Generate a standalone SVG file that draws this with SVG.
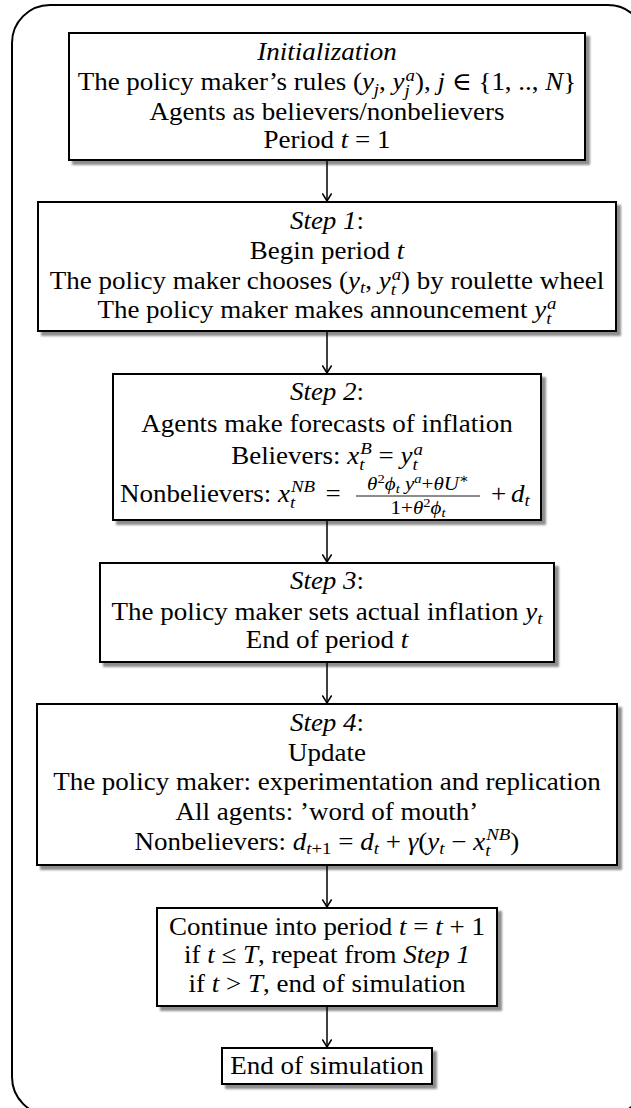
<svg xmlns="http://www.w3.org/2000/svg" width="631" height="1108" viewBox="0 0 631 1108">
<defs>
<style>
.box{fill:#fff;stroke:#000;stroke-width:2;filter:url(#sh)}
.t{font-family:"Liberation Serif","Times New Roman","DejaVu Serif",serif;font-size:25px;text-anchor:middle;fill:#000}
.f{font-family:"Liberation Serif","Times New Roman","DejaVu Serif",serif;font-size:19.5px;text-anchor:middle;fill:#000}
.st{text-anchor:start}
.i{font-style:italic}
.s{font-size:17.5px}
.ss{font-size:13.5px}
.con{fill:none;stroke:#000;stroke-width:1.5}
.bar{stroke:#000;stroke-width:0.9}
</style>
<filter id="sh" x="-5%" y="-10%" width="115%" height="135%">
<feGaussianBlur in="SourceAlpha" stdDeviation="1.3"/>
<feOffset dx="4" dy="4"/>
<feComponentTransfer><feFuncA type="linear" slope="0.45"/></feComponentTransfer>
<feMerge><feMergeNode/><feMergeNode in="SourceGraphic"/></feMerge>
</filter>
<marker id="ah" viewBox="-8 -6 10 12" markerWidth="10" markerHeight="12" refX="0" refY="0" orient="auto" markerUnits="userSpaceOnUse">
<path d="M-7,-4.3 Q-1.5,-0.8 0,0 Q-1.5,0.8 -7,4.3" fill="none" stroke="#000" stroke-width="1.5" stroke-linecap="round"/>
</marker>
</defs>
<rect x="0" y="0" width="631" height="1108" fill="#fff"/>
<rect id="frame" x="12" y="5" width="634" height="1110" rx="38" ry="38" fill="none" stroke="#000" stroke-width="2"/>

<g id="init">
<rect class="box" x="69" y="33" width="516" height="127"/>
<g transform="matrix(1.08 0 0 1 -26.16 0)">
<text class="t i" x="327" y="60">Initialization</text>
<text class="t" x="327" y="90.5">The policy maker’s rules (<tspan class="i">y</tspan><tspan class="s i" dy="5">j</tspan><tspan dy="-5">, </tspan><tspan class="i">y</tspan><tspan class="s i" dy="6">j</tspan><tspan class="s i" dx="-4" dy="-15">a</tspan><tspan dy="9">), </tspan><tspan class="i">j</tspan> ∈ {1, .., <tspan class="i">N</tspan>}</text>
<text class="t" x="327" y="120">Agents as believers/nonbelievers</text>
<text class="t" x="327" y="148">Period <tspan class="i">t</tspan> = 1</text>
</g>
</g>

<g id="step1">
<rect class="box" x="38" y="202" width="578" height="129"/>
<g transform="matrix(1.08 0 0 1 -26.16 0)">
<text class="t" x="327" y="229"><tspan class="i">Step 1</tspan>:</text>
<text class="t" x="327" y="259">Begin period <tspan class="i">t</tspan></text>
<text class="t" x="327" y="289">The policy maker chooses (<tspan class="i">y</tspan><tspan class="s i" dy="4">t</tspan><tspan dy="-4">, </tspan><tspan class="i">y</tspan><tspan class="s i" dy="6">t</tspan><tspan class="s i" dx="-4" dy="-15">a</tspan><tspan dy="9">) by roulette wheel</tspan></text>
<text class="t" x="327" y="318">The policy maker makes announcement <tspan class="i">y</tspan><tspan class="s i" dy="6">t</tspan><tspan class="s i" dx="-4" dy="-15">a</tspan></text>
</g>
</g>

<g id="step2">
<rect class="box" x="113" y="374" width="428" height="146"/>
<line class="bar" x1="356" y1="496" x2="480" y2="496"/>
<g transform="matrix(1.08 0 0 1 -26.16 0)">
<text class="t" x="327" y="400"><tspan class="i">Step 2</tspan>:</text>
<text class="t" x="327" y="432">Agents make forecasts of inflation</text>
<text class="t" x="327" y="464">Believers: <tspan class="i">x</tspan><tspan class="s i" dy="6">t</tspan><tspan class="s i" dx="-4" dy="-16">B</tspan><tspan dy="10"> = </tspan><tspan class="i">y</tspan><tspan class="s i" dy="6">t</tspan><tspan class="s i" dx="-4" dy="-15">a</tspan></text>
<text class="t st" x="135.3" y="502">Nonbelievers: <tspan class="i">x</tspan><tspan class="s i" dy="6">t</tspan><tspan class="s i" dx="-4" dy="-16">NB</tspan></text>
<text class="t" x="332.6" y="502">=</text>
<text class="f" x="411.3" y="490"><tspan class="i">θ</tspan><tspan class="ss" dy="-7">2</tspan><tspan class="i" dy="7">ϕ</tspan><tspan class="ss i" dy="3.5">t</tspan><tspan class="i" dy="-3.5"> y</tspan><tspan class="ss i" dy="-7">a</tspan><tspan dy="7">+</tspan><tspan class="i">θU</tspan><tspan class="ss" dy="-7">∗</tspan></text>
<text class="f" x="411.3" y="514">1+<tspan class="i">θ</tspan><tspan class="ss" dy="-7">2</tspan><tspan class="i" dy="7">ϕ</tspan><tspan class="ss i" dy="3.5">t</tspan></text>
<text class="t" x="485.8" y="502">+</text>
<text class="t st" x="497.4" y="502"><tspan class="i">d</tspan><tspan class="s i" dy="4">t</tspan></text>
</g>
</g>

<g id="step3">
<rect class="box" x="100" y="563" width="454" height="99"/>
<g transform="matrix(1.08 0 0 1 -26.16 0)">
<text class="t" x="327" y="589"><tspan class="i">Step 3</tspan>:</text>
<text class="t" x="327" y="620">The policy maker sets actual inflation <tspan class="i">y</tspan><tspan class="s i" dy="4">t</tspan></text>
<text class="t" x="327" y="648">End of period <tspan class="i">t</tspan></text>
</g>
</g>

<g id="step4">
<rect class="box" x="37" y="704" width="580" height="161"/>
<g transform="matrix(1.08 0 0 1 -26.16 0)">
<text class="t" x="327" y="731"><tspan class="i">Step 4</tspan>:</text>
<text class="t" x="327" y="761">Update</text>
<text class="t" x="327" y="790">The policy maker: experimentation and replication</text>
<text class="t" x="327" y="820">All agents: ’word of mouth’</text>
<text class="t" x="327" y="850">Nonbelievers: <tspan class="i">d</tspan><tspan class="s i" dy="4">t</tspan><tspan class="s">+1</tspan><tspan dy="-4"> = </tspan><tspan class="i">d</tspan><tspan class="s i" dy="4">t</tspan><tspan dy="-4"> + </tspan><tspan class="i">γ</tspan>(<tspan class="i">y</tspan><tspan class="s i" dy="4">t</tspan><tspan dy="-4"> − </tspan><tspan class="i">x</tspan><tspan class="s i" dy="6">t</tspan><tspan class="s i" dx="-4" dy="-16">NB</tspan><tspan dy="10">)</tspan></text>
</g>
</g>

<g id="continue">
<rect class="box" x="157" y="908" width="340" height="98"/>
<g transform="matrix(1.08 0 0 1 -26.16 0)">
<text class="t" x="327" y="935">Continue into period <tspan class="i">t</tspan> = <tspan class="i">t</tspan> + 1</text>
<text class="t" x="327" y="963">if <tspan class="i">t</tspan> ≤ <tspan class="i">T</tspan>, repeat from <tspan class="i">Step 1</tspan></text>
<text class="t" x="327" y="992">if <tspan class="i">t</tspan> &gt; <tspan class="i">T</tspan>, end of simulation</text>
</g>
</g>

<g id="end">
<rect class="box" x="222" y="1048" width="210" height="36"/>
<g transform="matrix(1.08 0 0 1 -26.16 0)">
<text class="t" x="327" y="1074.5">End of simulation</text>
</g>
</g>

<g id="connectors">
<line class="con" x1="327" y1="161" x2="327" y2="201" marker-end="url(#ah)"/>
<line class="con" x1="327" y1="332" x2="327" y2="373" marker-end="url(#ah)"/>
<line class="con" x1="327" y1="521" x2="327" y2="562" marker-end="url(#ah)"/>
<line class="con" x1="327" y1="663" x2="327" y2="703" marker-end="url(#ah)"/>
<line class="con" x1="327" y1="866" x2="327" y2="907" marker-end="url(#ah)"/>
<line class="con" x1="327" y1="1007" x2="327" y2="1047" marker-end="url(#ah)"/>
</g>
</svg>
